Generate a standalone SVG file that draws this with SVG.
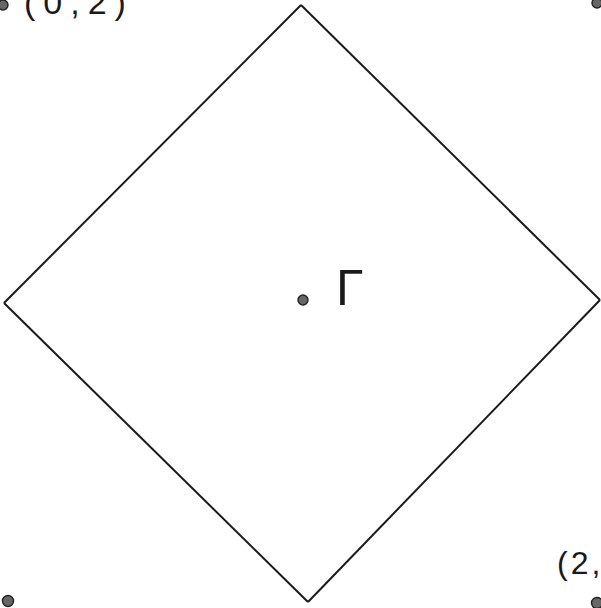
<svg xmlns="http://www.w3.org/2000/svg" width="601" height="608" viewBox="0 0 601 608">
<style>
.edge{fill:none;stroke:#1a1a1a;stroke-width:2;stroke-linejoin:miter}
.pt{fill:#666;stroke:#222;stroke-width:1.4}
.lbl{font-family:"Liberation Sans",Arial,sans-serif;fill:#1a1a1a}
</style>
<rect width="601" height="608" fill="#fff"/>
<g id="connectors">
<path class="edge" d="M301,5 L600,300"/>
<path class="edge" d="M600,300 L308,602"/>
<path class="edge" d="M308,602 L4,303"/>
<path class="edge" d="M4,303 L301,5"/>
</g>
<g id="center">
<circle class="pt" cx="303" cy="300" r="5"/>
<text class="lbl" x="336" y="305" font-size="50">Γ</text>
</g>
<g id="corner-tl">
<circle class="pt" cx="3" cy="5" r="5"/>
<text class="lbl" x="24" y="14" font-size="34" letter-spacing="8">(0,2)</text>
</g>
<g id="corner-tr">
<circle class="pt" cx="597" cy="3" r="5"/>
</g>
<g id="corner-bl">
<circle class="pt" cx="8" cy="601" r="5.5"/>
</g>
<g id="corner-br">
<circle class="pt" cx="597" cy="603" r="5.5"/>
<text class="lbl" x="557" y="574" font-size="32" letter-spacing="3">(2,</text>
</g>
</svg>
